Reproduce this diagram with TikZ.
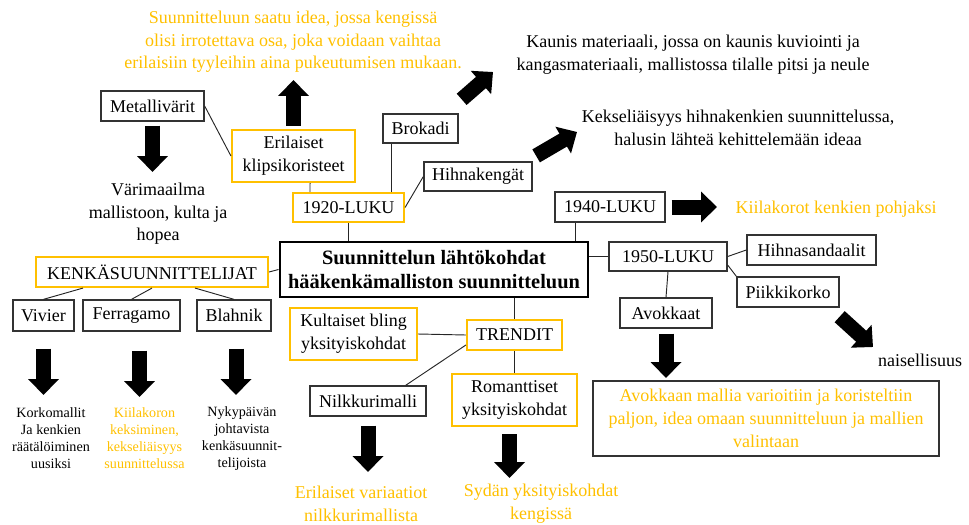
\documentclass[tikz,border=0pt]{standalone}
\usepackage{fontspec}
\setmainfont{Liberation Serif}
\usetikzlibrary{positioning,arrows.meta}
\definecolor{kulta}{RGB}{255,192,0}

\begin{document}
\begin{tikzpicture}[x=0.75pt, y=-0.75pt,
	sz/.style n args={2}{minimum width=#1*0.75pt, minimum height=#2*0.75pt},
	box/.style={draw=black!80, line width=1pt, inner sep=0pt, align=center, font=\fontsize{13.5}{17}\selectfont},
	obox/.style={box, draw=kulta, line width=1.6pt},
	note/.style={align=center, inner sep=0pt, font=\fontsize{13.5}{17}\selectfont},
	onote/.style={note, text=kulta},
	small/.style={align=center, inner sep=0pt, font=\fontsize{10.6}{12.75}\selectfont},
	link/.style={draw=black!85, line width=0.7pt},
	bigarrow/.style={line width=11.25pt, -{Triangle[width=22.5pt,length=12pt]}}]

					\useasboundingbox (0,0) rectangle (969,524);

					\node[box, draw=black, line width=2.2pt, sz={308}{55}, font=\bfseries\fontsize{15.3}{18}\selectfont] (keskus) at (434,269.5) {Suunnittelun lähtökohdat\\hääkenkämalliston suunnitteluun};

					\node[obox, sz={111}{29}] (l1920) at (348.5,207.5) {1920-LUKU};
					\node[obox, sz={123}{52}] (klipsi) at (293.5,156) {Erilaiset\\klipsikoristeet};
					\node[box, sz={103}{30}] (metal) at (152.5,106) {Metallivärit};
					\node[box, sz={75}{29}] (brokadi) at (420.5,128.5) {Brokadi};
					\node[box, sz={108}{29}] (hihna) at (478,176.5) {Hihnakengät};

					\node[onote] (idea) at (293,42) {Suunnitteluun saatu idea, jossa kengissä\\olisi irrotettava osa, joka voidaan vaihtaa\\erilaisiin tyyleihin aina pukeutumisen mukaan.};
					\node[note] (vari) at (158,214) {Värimaailma\\mallistoon, kulta ja\\hopea};
					\node[note] (kaunis) at (693,55) {Kaunis materiaali, jossa on kaunis kuviointi ja\\kangasmateriaali, mallistossa tilalle pitsi ja neule};
					\node[note] (keksel) at (738,128) {Kekseliäisyys hihnakenkien suunnittelussa,\\halusin lähteä kehittelemään ideaa};

					\node[box, sz={110}{30}] (l1940) at (610,207) {1940-LUKU};
					\node[onote] (kiila) at (836,209) {Kiilakorot kenkien pohjaksi};

					\node[box, sz={118}{29}] (l1950) at (668,256.5) {1950-LUKU};
					\node[box, sz={129}{30}] (sandaal) at (811.5,250) {Hihnasandaalit};
					\node[box, sz={102}{30}] (piikki) at (788,292) {Piikkikorko};
					\node[box, sz={92}{30}] (avok) at (666,313) {Avokkaat};
					\node[note] (nais) at (920,360) {naisellisuus};
					\node[box, sz={346}{75}, text=kulta] (avokteksti) at (766,418.5) {Avokkaan mallia varioitiin ja koristeltiin\\paljon, idea omaan suunnitteluun ja mallien\\valintaan};

					\node[obox, sz={95}{30}] (trendit) at (514.5,335) {TRENDIT};
					\node[obox, sz={127}{52}] (bling) at (353.5,334) {Kultaiset bling\\yksityiskohdat};
					\node[box, sz={116}{30}] (nilkku) at (368,401) {Nilkkurimalli};
					\node[obox, sz={125}{52}] (romantt) at (514.5,400) {Romanttiset\\yksityiskohdat};
					\node[onote] (variaat) at (361,504) {Erilaiset variaatiot\\nilkkurimallista};
					\node[onote] (sydan) at (541,504) {Sydän yksityiskohdat\\kengissä};

					\node[obox, sz={232}{30}] (kenka) at (152,272) {KENKÄSUUNNITTELIJAT};
					\node[box, sz={61}{31}] (vivier) at (43.5,315.5) {Vivier};
					\node[box, sz={97}{31}] (ferra) at (131.5,315.5) {Ferragamo};
					\node[box, sz={74}{31}] (blahnik) at (234,315.5) {Blahnik};
					\node[small] (korko) at (51,438.5) {Korkomallit\\Ja kenkien\\räätälöiminen\\uusiksi};
					\node[small, text=kulta] (kiilak) at (144.5,438.5) {Kiilakoron\\keksiminen,\\kekseliäisyys\\suunnittelussa};
					\node[small] (nyky) at (242,438.5) {Nykypäivän\\johtavista\\kenkäsuunnit-\\telijoista};

					\coordinate (ideatip) at (293.5,80);
					\coordinate (varitip) at (152.5,172);
					\coordinate (kaunistip) at (493,72);
					\coordinate (kekseltip) at (577,132);
					\coordinate (kiilatip) at (717,207);
					\coordinate (naistip) at (873,347);
					\coordinate (avoktip) at (666,378);
					\coordinate (nilktip) at (368,472);
					\coordinate (romtip) at (509.5,478);
					\coordinate (viviertip) at (43.5,395);
					\coordinate (ferratip) at (139.5,397);
					\coordinate (blahniktip) at (236,395);

					\draw[link] (metal.east) -- (klipsi.west);
					\draw[link] ([xshift=12.4pt]klipsi.south) -- ([xshift=-28.9pt]l1920.north);
					\draw[link] ([xshift=-22.1pt]brokadi.south) -- ([xshift=31.9pt]l1920.north);
					\draw[link] (l1920.east) -- (hihna.west);
					\draw[link] (l1920.south) -- (l1920.south |- keskus.north);
					\draw[link] ([xshift=-26.25pt]l1940.south) -- ([xshift=105.75pt]keskus.north);
					\draw[link] (l1950.west -| keskus.east) -- (l1950.west);
					\draw[link] (l1950.east) -- (sandaal.west);
					\draw[link] ([yshift=-6.4pt]l1950.east) -- (piikki.north west);
					\draw[link] (l1950.south) -- (avok.north);
					\draw[link] (trendit.north |- keskus.south) -- (trendit.north);
					\draw[link] (bling.east) -- (trendit.west);
					\draw[link] ([yshift=-7.5pt]trendit.west) -- ([xshift=-15.75pt]nilkku.north east);
					\draw[link] (trendit.south) -- (romantt.north);
					\draw[link] (kenka.east) -- (keskus.west);
					\draw[link] ([xshift=-51.75pt]kenka.south) -- (vivier.north);
					\draw[link] (kenka.south) -- (ferra.north);
					\draw[link] ([xshift=32.25pt]kenka.south) -- (blahnik.north);

					\draw[bigarrow, shorten <=2.25pt] (klipsi.north) -- (ideatip);
					\draw[bigarrow, shorten <=3pt] (metal.south) -- (varitip);
					\draw[bigarrow] ([shift={(2.25pt,10.5pt)}]brokadi.north east) -- (kaunistip);
					\draw[bigarrow] ([shift={(2.6pt,4.1pt)}]hihna.north east) -- (kekseltip);
					\draw[bigarrow, shorten <=4.5pt] (l1940.east) -- (kiilatip);
					\draw[bigarrow] ([yshift=-6.75pt]piikki.south east) -- (naistip);
					\draw[bigarrow, shorten <=3.75pt] (avok.south) -- (avoktip);
					\draw[bigarrow, shorten <=6.75pt] (nilkku.south) -- (nilktip);
					\draw[bigarrow, shorten <=5.25pt] ([xshift=-3.75pt]romantt.south) -- (romtip);
					\draw[bigarrow, shorten <=12.75pt] (vivier.south) -- (viviertip);
					\draw[bigarrow, shorten <=14.25pt] ([xshift=6pt]ferra.south) -- (ferratip);
					\draw[bigarrow, shorten <=12.75pt] ([xshift=1.5pt]blahnik.south) -- (blahniktip);

				\end{tikzpicture}
\end{document}
